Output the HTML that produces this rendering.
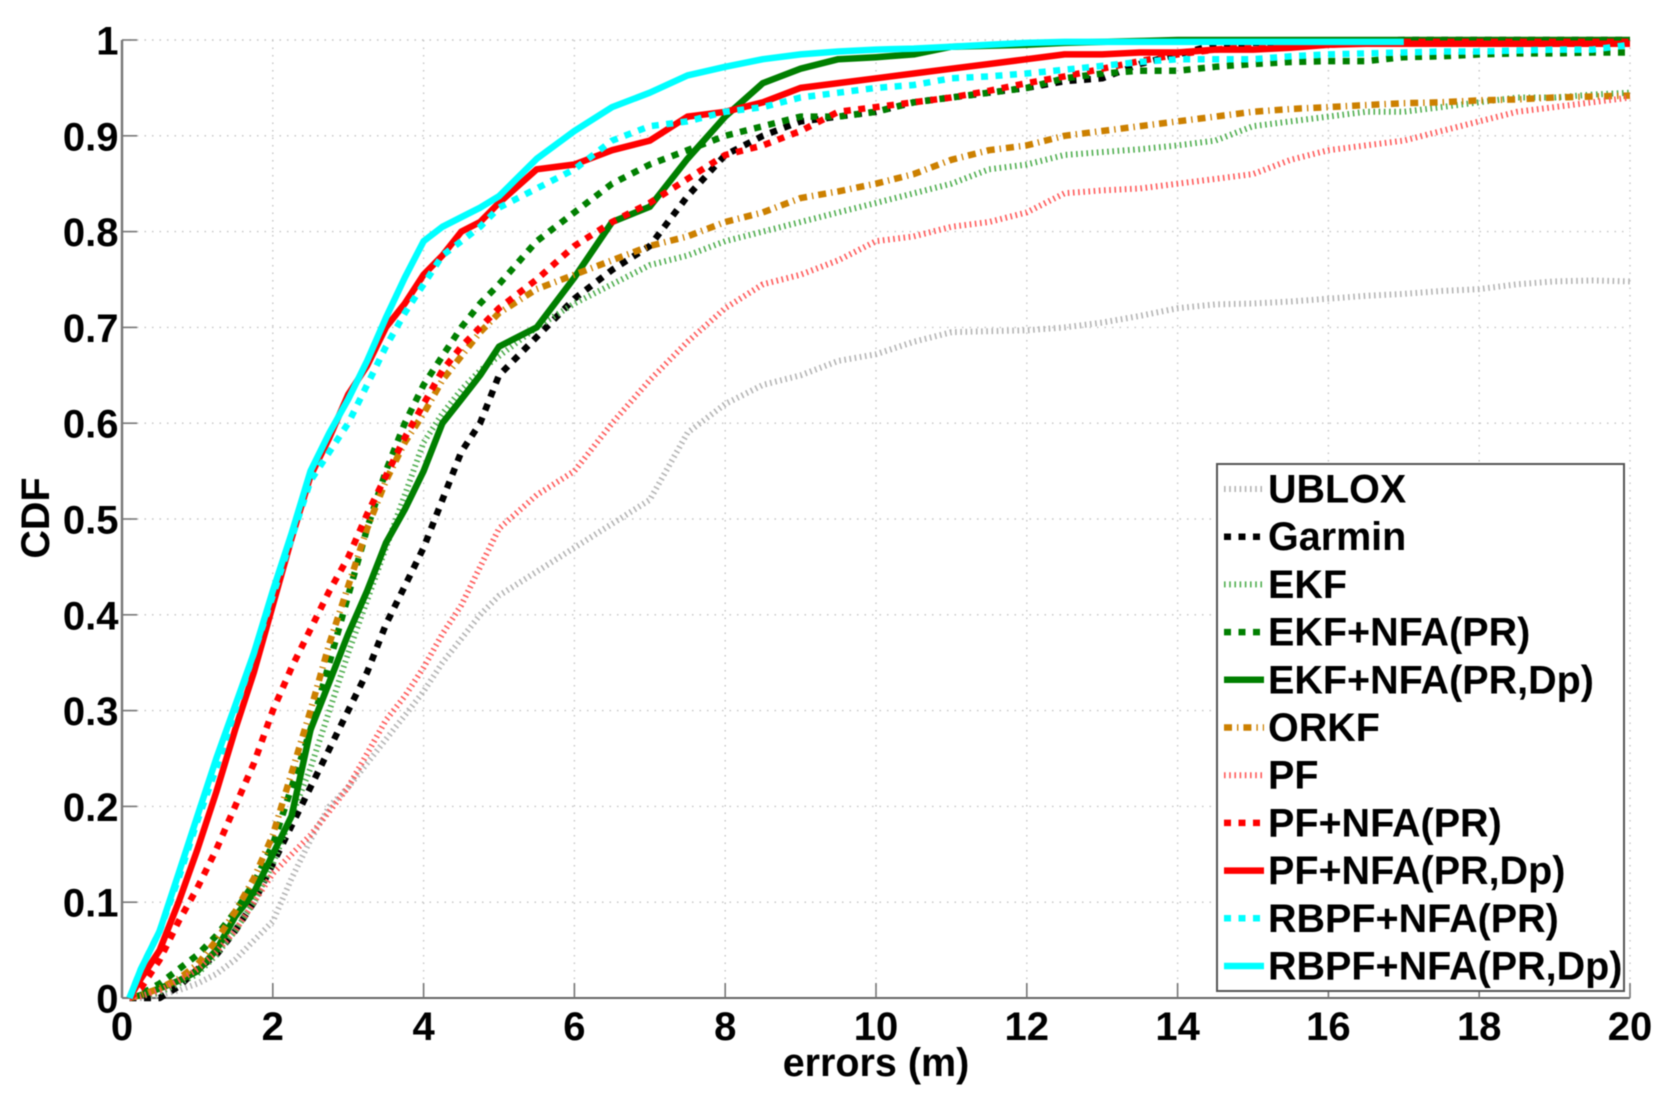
<!DOCTYPE html>
<html lang="en">
<head>
<meta charset="utf-8">
<title>CDF of positioning errors</title>
<style>
html,body{margin:0;padding:0;background:#fff;}
#chart{display:block;width:1663px;height:1101px;filter:blur(0.6px);font-family:"Liberation Sans",sans-serif;font-weight:bold;}
</style>
</head>
<body>
<svg id="chart" xmlns="http://www.w3.org/2000/svg" width="1663" height="1101" viewBox="0 0 1663 1101"></svg>
<script>
const xValues = [0.1,0.25,0.5,0.75,1,1.25,1.5,1.75,2,2.25,2.5,2.75,3,3.25,3.5,3.75,4,4.25,4.5,4.75,5,5.5,6,6.5,7,7.5,8,8.5,9,9.5,10,10.5,11,11.5,12,12.5,13,13.5,14,14.5,15,15.5,16,16.5,17,17.5,18,18.5,19,19.5,20];
const xTickLabels = [0,2,4,6,8,10,12,14,16,18,20];
const yTickLabels = ['0','0.1','0.2','0.3','0.4','0.5','0.6','0.7','0.8','0.9','1'];
const ubloxValues = [0,0,.003,.008,.015,.025,.04,.06,.08,.125,.165,.20,.22,.245,.27,.295,.32,.35,.375,.40,.42,.445,.47,.495,.52,.59,.62,.64,.65,.665,.672,.685,.695,.696,.697,.70,.705,.712,.72,.724,.725,.727,.73,.733,.735,.738,.74,.745,.748,.749,.748];
const garminValues = [0,0,0,.012,.03,.045,.07,.10,.14,.18,.22,.26,.30,.34,.39,.43,.47,.52,.57,.60,.65,.69,.73,.76,.785,.837,.88,.90,.915,.92,.925,.935,.94,.945,.95,.957,.96,.975,.985,.995,.997,.998,.999,.999,1,1,1,1,1,1,1];
const ekfValues = [0,.002,.006,.015,.025,.045,.07,.10,.14,.19,.24,.30,.36,.415,.47,.525,.58,.61,.635,.655,.67,.70,.725,.745,.765,.775,.79,.80,.81,.82,.83,.84,.85,.865,.87,.88,.883,.886,.89,.895,.91,.915,.92,.925,.925,.93,.935,.94,.94,.943,.945];
const ekfPrValues = [0,.004,.015,.03,.045,.065,.09,.12,.16,.22,.28,.35,.42,.49,.55,.60,.64,.67,.70,.725,.745,.79,.82,.85,.87,.885,.90,.91,.92,.92,.925,.935,.94,.945,.95,.96,.965,.968,.968,.972,.975,.977,.978,.978,.982,.983,.985,.986,.986,.987,.987];
const ekfDpValues = [0,.003,.01,.018,.028,.05,.085,.11,.15,.19,.28,.33,.38,.425,.475,.51,.55,.60,.625,.65,.68,.70,.752,.81,.826,.876,.92,.955,.97,.98,.982,.985,.993,.994,.995,.997,.998,.999,1,1,1,1,1,1,1,1,1,1,1,1,1];
const orkfValues = [0,.003,.01,.02,.035,.06,.09,.125,.17,.235,.30,.37,.43,.49,.54,.58,.61,.645,.67,.695,.715,.74,.755,.77,.785,.795,.81,.82,.835,.842,.85,.86,.875,.885,.89,.90,.905,.91,.915,.92,.925,.928,.93,.932,.934,.935,.937,.938,.94,.941,.942];
const pfValues = [0,.002,.008,.018,.03,.048,.07,.10,.13,.15,.17,.195,.22,.255,.29,.315,.345,.38,.41,.45,.49,.525,.55,.60,.645,.685,.72,.745,.755,.77,.79,.795,.805,.81,.82,.84,.843,.845,.85,.855,.86,.875,.885,.89,.895,.905,.915,.925,.93,.935,.94];
const pfPrValues = [0,.01,.04,.08,.115,.155,.20,.245,.30,.345,.385,.425,.46,.505,.545,.585,.62,.655,.68,.70,.72,.75,.785,.81,.83,.855,.88,.89,.905,.925,.93,.935,.94,.947,.955,.962,.97,.978,.985,.99,.993,.994,.995,.997,.998,.998,.998,.998,.998,.998,.998];
const pfDpValues = [0,.02,.05,.10,.155,.215,.28,.34,.41,.48,.545,.585,.63,.66,.70,.725,.755,.775,.80,.81,.83,.865,.87,.885,.895,.92,.925,.935,.95,.955,.96,.965,.97,.975,.98,.985,.985,.987,.987,.99,.99,.992,.995,.996,.996,.996,.996,.996,.996,.996,.996];
const rbpfPrValues = [0,.03,.07,.125,.185,.24,.30,.36,.42,.48,.54,.57,.60,.64,.68,.715,.745,.775,.79,.805,.825,.845,.865,.895,.91,.915,.925,.93,.94,.945,.95,.953,.96,.962,.965,.969,.973,.977,.98,.98,.98,.983,.985,.986,.987,.988,.988,.989,.99,.99,.995];
const rbpfDpValues = [0,.03,.07,.13,.19,.25,.305,.36,.425,.485,.55,.59,.625,.665,.71,.752,.79,.805,.815,.825,.837,.876,.905,.93,.945,.963,.972,.98,.985,.988,.99,.991,.993,.995,.997,.998,.998,.998,.998,.998,.998,.998,.998,.998,.998];

const svg = document.getElementById('chart');
const NS = 'http://www.w3.org/2000/svg';
const plotLeft = 122, plotRight = 1630, plotTop = 40, plotBottom = 998;
function sx(v){ return plotLeft + (v / 20) * (plotRight - plotLeft); }
function sy(v){ return plotBottom - v * (plotBottom - plotTop); }
function make(tag, attrs, text){
  const el = document.createElementNS(NS, tag);
  for (const k in attrs) el.setAttribute(k, attrs[k]);
  if (text !== undefined) el.textContent = text;
  svg.appendChild(el);
  return el;
}

// grid
xTickLabels.forEach(function(t){
  const g = make('line', {x1:sx(t),x2:sx(t),y1:plotTop,y2:plotBottom,stroke:'#c4c4c4','stroke-width':1.4,'stroke-dasharray':'1.5 6'});
  
  
});
yTickLabels.forEach(function(t){
  const g = make('line', {x1:plotLeft,x2:plotRight,y1:sy(+t),y2:sy(+t),stroke:'#c4c4c4','stroke-width':1.4,'stroke-dasharray':'1.5 6'});
  
  
});

// axes
const axisY = make('line', {x1:plotLeft,x2:plotLeft,y1:plotTop,y2:plotBottom,stroke:'#777','stroke-width':2.4});


const axisX = make('line', {x1:plotLeft,x2:plotRight,y1:plotBottom,y2:plotBottom,stroke:'#666','stroke-width':2});



xTickLabels.forEach(function(t){
  const m = make('line', {x1:sx(t),x2:sx(t),y1:plotBottom,y2:plotBottom-15,stroke:'#777','stroke-width':1.6});
  
  
  const l = make('text', {x:sx(t),y:1040,'text-anchor':'middle','font-size':40,fill:'#000'}, String(t));
  
  
});
yTickLabels.forEach(function(t){
  const m = make('line', {x1:plotLeft,x2:plotLeft+15,y1:sy(+t),y2:sy(+t),stroke:'#777','stroke-width':1.6});
  
  
  const l = make('text', {x:118.5,y:sy(+t)+14.5,'text-anchor':'end','font-size':40,fill:'#000'}, t);
  
  
});

const xTitle = make('text', {x:876,y:1076,'text-anchor':'middle','font-size':39.5,fill:'#000'}, 'errors (m)');


const yTitle = make('text', {x:0,y:0,transform:'translate(49 518) rotate(-90)','text-anchor':'middle','font-size':39.5,fill:'#000'}, 'CDF');



// series styles
const dotStyle = {w:6,dash:'1.6 3.6'};
const dashStyle = {w:6.5,dash:'7 7.5'};
const solidStyle = {w:6.5,dash:''};
const dashDotStyle = {w:6.5,dash:'8 5 1.4 5'};
const seriesList = [
  {name:'UBLOX',key:'ublox',vals:ubloxValues,color:'#b4b4b4',st:dotStyle},
  {name:'Garmin',key:'garmin',vals:garminValues,color:'#000000',st:dashStyle},
  {name:'EKF',key:'ekf',vals:ekfValues,color:'#4fae4f',st:dotStyle},
  {name:'EKF+NFA(PR)',key:'ekf-nfa-pr',vals:ekfPrValues,color:'#007f00',st:dashStyle},
  {name:'EKF+NFA(PR,Dp)',key:'ekf-nfa-pr-dp',vals:ekfDpValues,color:'#007f00',st:solidStyle},
  {name:'ORKF',key:'orkf',vals:orkfValues,color:'#cc8000',st:dashDotStyle},
  {name:'PF',key:'pf',vals:pfValues,color:'#ff5a5a',st:dotStyle},
  {name:'PF+NFA(PR)',key:'pf-nfa-pr',vals:pfPrValues,color:'#ff0000',st:dashStyle},
  {name:'PF+NFA(PR,Dp)',key:'pf-nfa-pr-dp',vals:pfDpValues,color:'#ff0000',st:solidStyle},
  {name:'RBPF+NFA(PR)',key:'rbpf-nfa-pr',vals:rbpfPrValues,color:'#00ffff',st:dashStyle},
  {name:'RBPF+NFA(PR,Dp)',key:'rbpf-nfa-pr-dp',vals:rbpfDpValues,color:'#00ffff',st:solidStyle}
];
seriesList.forEach(function(s){
  const pts = s.vals.map(function(v,i){ return sx(xValues[i]).toFixed(1)+','+sy(v).toFixed(1); }).join(' ');
  const p = make('polyline', {points:pts,fill:'none',stroke:s.color,'stroke-width':s.st.w,'stroke-linejoin':'round'});
  if (s.st.dash) p.setAttribute('stroke-dasharray', s.st.dash);
  
  
});

// legend
const legendBox = make('rect', {x:1217,y:464,width:407,height:527,fill:'#fff',stroke:'#555','stroke-width':2});


seriesList.forEach(function(s,i){
  const cy = 489 + i * 47.7;
  const line = make('line', {x1:1224,x2:1264,y1:cy,y2:cy,stroke:s.color,'stroke-width':s.st.w});
  if (s.st.dash) line.setAttribute('stroke-dasharray', s.st.dash);
  
  
  const t = make('text', {x:1268,y:cy+13.5,'font-size':39.5,fill:'#000'}, s.name);
  
  
});
</script>
</body>
</html>
